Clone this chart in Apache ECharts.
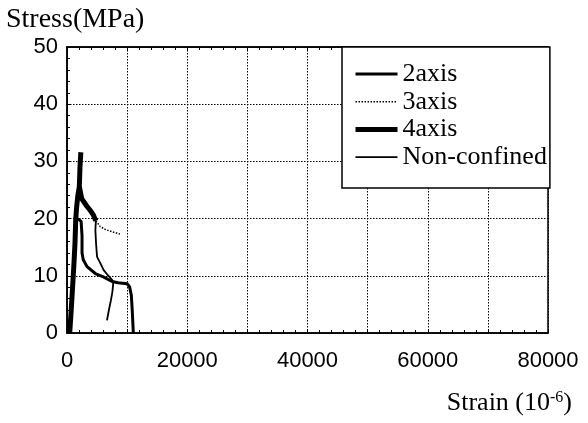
<!DOCTYPE html>
<html>
<head>
<meta charset="utf-8">
<script src="https://cdn.jsdelivr.net/npm/echarts@6/dist/echarts.min.js"></script>
<style>
html,body{margin:0;padding:0;background:#fff;}
#chart{width:588px;height:423px;}
</style>
</head>
<body>
<div id="chart"></div>
<script>
// Series names (legend order)
const seriesNames = ['2axis', '3axis', '4axis', 'Non-confined'];

// [strain (1e-6), stress (MPa)]
const data2axis = [[450,0],[850,7],[1200,13],[1450,19.8],[1900,19.9],[2350,19.5],[2500,17],[2500,14],[2700,12.8],[3330,11.6],[4710,10.4],[6040,9.8],[7490,9.0],[8500,8.8],[10000,8.6],[10400,8.1],[10700,6.6],[10850,4],[11030,0]];
const data3axis = [[4800,19.6],[5540,18.6],[6370,18.1],[7490,17.7],[8800,17.3]];
const data4axis = [[450,0],[700,4],[950,8.4],[1150,12],[1330,15.7],[1450,19.8],[1600,22],[1800,24],[2050,25.6],[2160,29],[2300,31.6],[2160,29],[2050,25.6],[2440,23.5],[3280,22.2],[3900,21.4],[4400,20.6],[4800,19.6]];
const dataNonConfined = [[4800,19.6],[4720,18],[4830,15.7],[5000,13.3],[5500,12.3],[6100,11],[6800,10.1],[7500,9.3],[7700,8.8],[7550,7.2],[7300,5.7],[7000,4.2],[6650,2.2]];

// Axis ranges / tick labels
const xMin = 0, xMax = 80000, xGridStep = 10000;
const xTickLabels = ['0','20000','40000','60000','80000'];
const yMin = 0, yMax = 50, yStep = 10;
const yTickLabels = ['0','10','20','30','40','50'];

const chart = echarts.init(document.getElementById('chart'), null, {renderer:'canvas'});
const sans = 'Liberation Sans, Arial, sans-serif';
const serif = 'Liberation Serif, Times New Roman, serif';

const lineWidths = [3, 1.5, 5, 1.8];
const lineTypes = ['solid', [1.5, 1.5], 'solid', 'solid'];

const option = {
  backgroundColor: '#fff',
  animation: false,
  title: [
    { text: 'Stress(MPa)', left: 1, top: 1,
      textStyle: { fontFamily: serif, fontSize: 28, fontWeight: 'normal', color: '#000' } },
    { text: '{a|Strain (10}{b|-6}{a|)}', right: 11, top: 385,
      textStyle: { rich: {
        a: { fontFamily: serif, fontSize: 26, fontWeight: 'normal', color: '#000' },
        b: { fontFamily: serif, fontSize: 16, fontWeight: 'normal', color: '#000', verticalAlign: 'top', padding: [0,0,10,0] }
      } } }
  ],
  legend: {
    data: seriesNames.map((n, i) => ({
      name: n,
      itemStyle: { opacity: 0 },
      lineStyle: { color: '#000', width: lineWidths[i], type: lineTypes[i] }
    })),
    orient: 'vertical', align: 'left',
    left: 342, top: 47,
    backgroundColor: '#fff', borderColor: '#000', borderWidth: 1.5,
    padding: [14, 3, 18, 11],
    itemWidth: 42, itemHeight: 14, itemGap: 1.7,
    itemStyle: { opacity: 0 },
    textStyle: { fontFamily: serif, fontSize: 26, color: '#000' }
  },
  grid: { left: 67, right: 40, top: 47, bottom: 90, show: true, borderColor: '#000', borderWidth: 1.5, backgroundColor: '#fff' },
  xAxis: [{
    type: 'value', min: xMin, max: xMax, interval: xGridStep,
    axisLine: { show: true, lineStyle: { color: '#000', width: 1.5 } },
    axisTick: { show: true, inside: true, length: 4, lineStyle: { color: '#000' } },
    minorTick: { show: true, splitNumber: 5, length: 3, lineStyle: { color: '#000' } },
    splitLine: { show: true, lineStyle: { color: '#000', type: [1.5, 1.5], width: 1 } },
    axisLabel: {
      margin: 17, fontFamily: sans, fontSize: 22, color: '#000',
      formatter: v => (xTickLabels.indexOf(String(v)) >= 0 ? String(v) : '')
    }
  }, {
    type: 'value', min: xMin, max: xMax, interval: xGridStep, position: 'top',
    axisLine: { show: true, lineStyle: { color: '#000', width: 1.5 } },
    axisTick: { show: true, inside: true, length: 4, lineStyle: { color: '#000' } },
    minorTick: { show: true, splitNumber: 5, length: 3, lineStyle: { color: '#000' } },
    splitLine: { show: false }, axisLabel: { show: false }
  }],
  yAxis: {
    type: 'value', min: yMin, max: yMax, interval: yStep,
    axisLine: { show: true, lineStyle: { color: '#000', width: 1.5 } },
    axisTick: { show: true, inside: true, length: 4, lineStyle: { color: '#000' } },
    minorTick: { show: true, splitNumber: 5, length: 3, lineStyle: { color: '#000' } },
    splitLine: { show: true, lineStyle: { color: '#000', type: [1.5, 1.5], width: 1 } },
    axisLabel: {
      margin: 9, fontFamily: sans, fontSize: 22, color: '#000', padding: [0,0,10,0],
      formatter: v => (yTickLabels.indexOf(String(v)) >= 0 ? String(v) : '')
    }
  },
  series: [
    { name: seriesNames[0], type: 'line', data: data2axis, symbol: 'none', showSymbol: false, z: 3,
      lineStyle: { color: '#000', width: lineWidths[0] }, itemStyle: { color: '#000' } },
    { name: seriesNames[1], type: 'line', data: data3axis, symbol: 'none', showSymbol: false, z: 3,
      lineStyle: { color: '#000', width: lineWidths[1], type: lineTypes[1] }, itemStyle: { color: '#000' } },
    { name: seriesNames[2], type: 'line', data: data4axis, symbol: 'none', showSymbol: false, z: 4,
      lineStyle: { color: '#000', width: lineWidths[2] }, itemStyle: { color: '#000' } },
    { name: seriesNames[3], type: 'line', data: dataNonConfined, symbol: 'none', showSymbol: false, z: 3,
      lineStyle: { color: '#000', width: lineWidths[3] }, itemStyle: { color: '#000' } }
  ]
};
chart.setOption(option);
</script>
</body>
</html>
